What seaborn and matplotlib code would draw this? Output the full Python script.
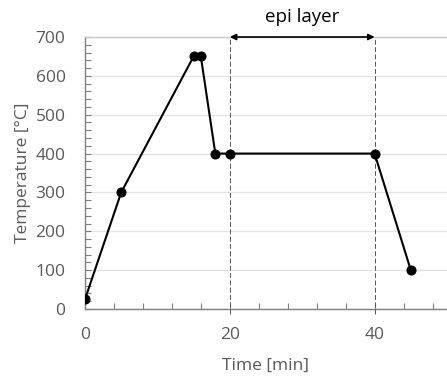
import numpy as np
import pandas as pd
import seaborn as sns
import matplotlib.pyplot as plt
from matplotlib.ticker import MultipleLocator

# temperature profile
time_min = [0, 5, 15, 16, 18, 20, 40, 45]
temp_c = [25, 300, 650, 650, 400, 400, 400, 100]
epi_start, epi_end = 20, 40
epi_label = 'epi layer'

df = pd.DataFrame({'time': time_min, 'temp': temp_c})

sns.set_style('white')
plt.rcParams['font.family'] = ['Open Sans', 'DejaVu Sans']
gray = '#595959'

fig = plt.figure(figsize=(4.47, 3.76), dpi=100)
ax = fig.add_axes([85/447, 1-309/376, 1-85/447, (309-37)/376])

sns.lineplot(data=df, x='time', y='temp', ax=ax, color='black', lw=1.5,
             marker='o', markersize=6.5, markeredgecolor='black', zorder=5)

ax.set_xlim(0, 50)
ax.set_ylim(0, 700)
ax.xaxis.set_major_locator(MultipleLocator(20))
ax.xaxis.set_minor_locator(MultipleLocator(4))
ax.yaxis.set_major_locator(MultipleLocator(100))
ax.yaxis.set_minor_locator(MultipleLocator(20))
ax.grid(axis='y', which='major', color='#e3e3e3', lw=0.9, zorder=0)
ax.tick_params(which='both', direction='in', color='#7f7f7f', labelcolor=gray,
               labelsize=12.5)
ax.tick_params(which='both', length=4, width=0.8)
ax.tick_params(axis='x', which='both', bottom=True, pad=13)
ax.tick_params(axis='y', which='both', left=True, pad=14)

for s in ['left', 'bottom']:
    ax.spines[s].set_color('#7f7f7f')
    ax.spines[s].set_linewidth(1)
ax.spines['top'].set_color('#c8c8c8')
ax.spines['top'].set_linewidth(1)
ax.spines['right'].set_visible(False)

ax.set_xlabel('Time [min]', color=gray, fontsize=12.5, labelpad=11)
ax.set_ylabel('Temperature [°C]', color=gray, fontsize=12.5, labelpad=3)

# epi layer markers
for xv in [epi_start, epi_end]:
    ax.plot([xv, xv], [-12, 700], ls=(0, (5, 2.5)), color='#555555', lw=0.7,
            clip_on=False, zorder=3)
ax.annotate('', xy=(epi_start, 700), xytext=(epi_end, 700),
            arrowprops=dict(arrowstyle='<|-|>', color='black', lw=1.2,
                            mutation_scale=9, shrinkA=0, shrinkB=0),
            annotation_clip=False, zorder=6)
ax.text((epi_start + epi_end) / 2, 728, epi_label, ha='center', va='bottom',
        fontsize=13.5, color='black')

fig.savefig('out.png', dpi=100)
